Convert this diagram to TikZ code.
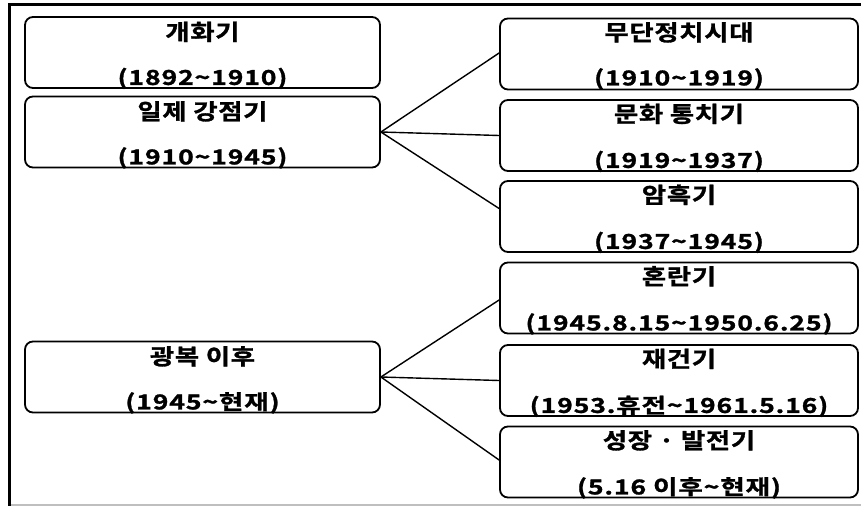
\documentclass[tikz,border=0pt]{standalone}
\usepackage{fontspec}
\setmainfont{Noto Sans CJK KR}[BoldFont={* Bold}, BoldFeatures={FakeBold=1.3}, FakeStretch=1.3, LetterSpace=4]
\newfontfamily\ttlfont{Noto Sans CJK KR}[BoldFont={* Bold}, BoldFeatures={FakeBold=1.3}, FakeStretch=1.2, LetterSpace=3]
\newcommand{\tld}{{\textasciitilde}}
\begin{document}
\begin{tikzpicture}[x=1pt,y=-1pt,
  box/.style={draw=black, line width=1.8pt, rounded corners=8pt, inner sep=0pt, minimum width=355pt, minimum height=71pt},
  ttl/.style={anchor=base, inner sep=0pt, font=\ttlfont\fontsize{22}{26}\selectfont\bfseries},
  dte/.style={anchor=base, inner sep=0pt, font=\fontsize{20.5}{24}\selectfont\bfseries},
  conn/.style={draw=black, line width=1.4pt}]
\useasboundingbox (0,0) rectangle (861,506);
% frame
\draw[line width=3pt] (8,4.5) -- (861,4.5);
\draw[line width=3pt] (9.5,3) -- (9.5,506);
\draw[black!25, line width=1.2pt] (11,505) -- (861,505);
% left boxes
\node[box] (L1) at (202.5,52.5) {};
\node[box] (L2) at (202.5,132) {};
\node[box] (L3) at (202.5,377) {};
% right boxes
\node[box, minimum width=358pt] (R1) at (679,54) {};
\node[box, minimum width=358pt] (R2) at (679,135.5) {};
\node[box, minimum width=358pt] (R3) at (679,216.5) {};
\node[box, minimum width=358pt] (R4) at (679,298) {};
\node[box, minimum width=358pt] (R5) at (679,380.5) {};
\node[box, minimum width=358pt] (R6) at (679,462) {};
% texts
\node[ttl] (t1) at ([yshift=-24pt]L1.north) {개화기};
\node[dte] (d1) at ([yshift=4pt]L1.south) {(1892\tld 1910)};
\node[ttl] (t2) at ([yshift=-24pt]L2.north) {일제 강점기};
\node[dte] (d2) at ([yshift=4pt]L2.south) {(1910\tld 1945)};
\node[ttl] (t3) at ([yshift=-24pt]L3.north) {광복 이후};
\node[dte] (d3) at ([yshift=4pt]L3.south) {(1945\tld 현재)};
\node[ttl] (u1) at ([yshift=-23pt]R1.north) {무단정치시대};
\node[dte] (e1) at ([yshift=5pt]R1.south) {(1910\tld 1919)};
\node[ttl] (u2) at ([yshift=-23pt]R2.north) {문화 통치기};
\node[dte] (e2) at ([yshift=4pt]R2.south) {(1919\tld 1937)};
\node[ttl] (u3) at ([yshift=-23pt]R3.north) {암흑기};
\node[dte] (e3) at ([yshift=4pt]R3.south) {(1937\tld 1945)};
\node[ttl] (u4) at ([yshift=-23pt]R4.north) {혼란기};
\node[dte] (e4) at ([yshift=4pt]R4.south) {(1945.8.15\tld 1950.6.25)};
\node[ttl] (u5) at ([yshift=-23pt]R5.north) {재건기};
\node[dte] (e5) at ([yshift=4pt]R5.south) {(1953.휴전\tld 1961.5.16)};
\node[ttl] (u6) at ([yshift=-23pt]R6.north) {성장 · 발전기};
\node[dte] (e6) at ([yshift=4pt]R6.south) {(5.16 이후\tld 현재)};
% connectors
\draw[conn] (L2.east) -- ([yshift=1pt]R1.west);
\draw[conn] (L2.east) -- (R2.west);
\draw[conn] (L2.east) -- ([yshift=8pt]R3.west);
\draw[conn] (L3.east) -- ([yshift=-2pt]R4.west);
\draw[conn] (L3.east) -- (R5.west);
\draw[conn] (L3.east) -- ([yshift=2pt]R6.west);
\end{tikzpicture}
\end{document}
